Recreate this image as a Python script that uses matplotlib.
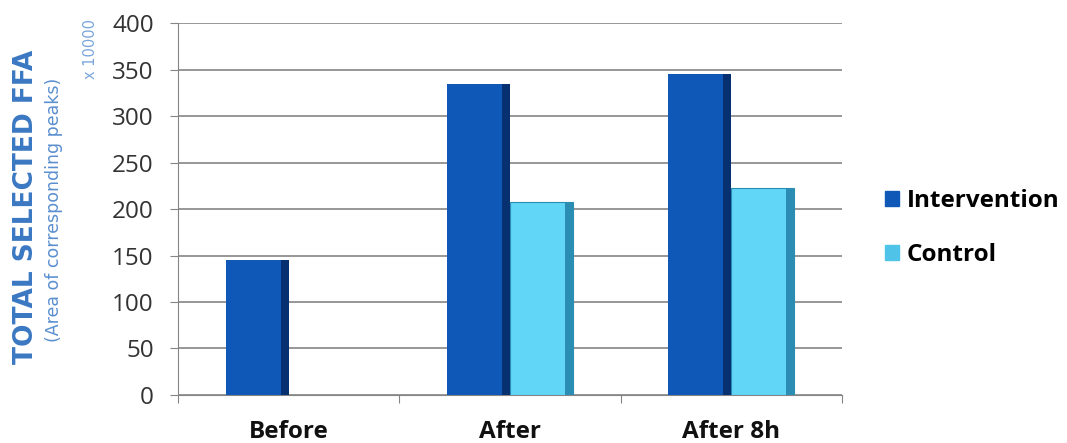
import numpy as np
import matplotlib
matplotlib.use('Agg')
import matplotlib.pyplot as plt
from matplotlib.patches import Patch

categories = ['Before', 'After', 'After 8h']
intervention = [145, 334, 345]
control = [np.nan, 207, 223]
y_ticks = [0, 50, 100, 150, 200, 250, 300, 350, 400]

plt.rcParams['font.family'] = ['Open Sans', 'DejaVu Sans']

fig = plt.figure(figsize=(10.67, 4.43), dpi=100)
ax = fig.add_axes([0.1668, 0.1084, 0.6222, 0.8396])

x = np.arange(len(categories))
w = 0.285
side = 0.036

# main faces
ax.bar(x - w / 2, intervention, w, color='#0f58b8', zorder=3)
ax.bar(x + w / 2, control, w, color='#62d6f7', edgecolor='#2b8db3', linewidth=0.8, zorder=3)
# darker right-side faces for a 3D look
ax.bar(x - side / 2, intervention, side, color='#06306f', zorder=4)
ax.bar(x + w - side / 2, control, side, color='#2b8db3', zorder=4)

ax.set_xlim(-0.5, len(categories) - 0.5)
ax.set_ylim(0, 400)
ax.set_yticks(y_ticks)
ax.set_yticklabels([str(v) for v in y_ticks], fontsize=17.5, color='#333333')
ax.yaxis.grid(True, color='#858585', linewidth=1.2, zorder=0)
ax.tick_params(axis='y', length=6, color='#858585', pad=11.5)

# category labels below, ticks at category boundaries
ax.set_xticks(np.arange(len(categories) + 1) - 0.5)
ax.set_xticklabels([])
ax.tick_params(axis='x', length=6, color='#858585', direction='out')
for xi, lab in zip(x, categories):
    ax.text(xi, -0.1, lab, transform=ax.get_xaxis_transform(), ha='center', va='center',
            fontsize=17.5, fontweight='bold', color='#111111')

for s in ['top', 'right']:
    ax.spines[s].set_visible(False)
ax.spines['left'].set_color('#858585')
ax.spines['bottom'].set_color('#858585')

fig.text(0.024, 0.533, 'TOTAL SELECTED FFA', rotation=90, ha='center', va='center',
         fontsize=19, fontweight='bold', color='#3a78c2', family=['DejaVu Sans'])
fig.text(0.051, 0.526, '(Area of corresponding peaks)', rotation=90, ha='center', va='center',
         fontsize=12.5, color='#5a8fd0', family=['DejaVu Sans'])
fig.text(0.085, 0.89, 'x 10000', rotation=90, ha='center', va='center',
         fontsize=10.5, color='#7aa6dc', family=['DejaVu Sans'])

handles = [Patch(color='#0f58b8', label='Intervention'), Patch(color='#4fc3e8', label='Control')]
leg = fig.legend(handles=handles, loc='center left', bbox_to_anchor=(0.829, 0.485), frameon=False,
                 prop={'size': 17.5, 'weight': 'bold'}, handlelength=0.6, handleheight=0.6,
                 handletextpad=0.3, labelspacing=1.25, borderaxespad=0, borderpad=0)

fig.savefig('out.png', dpi=100)
